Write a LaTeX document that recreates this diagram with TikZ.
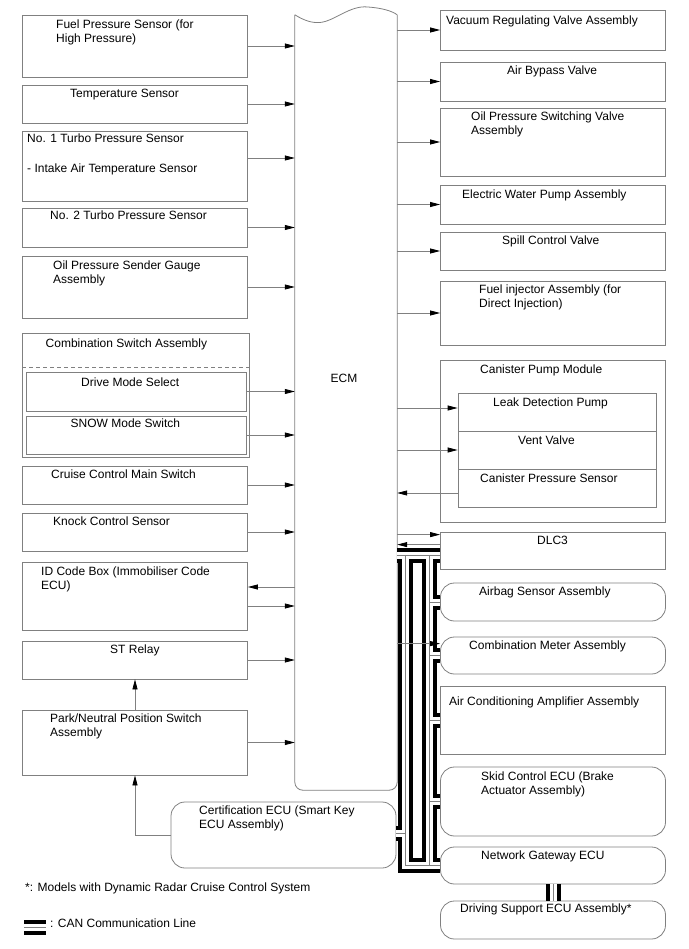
\documentclass[tikz,border=0pt]{standalone}
\usepackage{fontspec}
\setmainfont{Liberation Sans}
\usetikzlibrary{arrows.meta}
\definecolor{gris}{gray}{0.5}
\begin{document}
\begin{tikzpicture}[x=1pt, y=-1pt, font=\fontsize{12}{14}\selectfont,
  caja/.style={draw=gris, line width=0.8pt, inner sep=0pt, minimum width=225pt},
  cajar/.style={caja, rounded corners=14pt},
  texto/.style={anchor=north west, inner sep=0pt, align=left},
  flecha/.style={draw=gris, line width=0.8pt, -{Triangle[length=10pt, width=5pt, color=black]}}]
  \useasboundingbox (0,0) rectangle (688,949);
  % la ECM en el medio
  \node[minimum width=102pt, minimum height=775pt, inner sep=0pt] (ecm) at (346,402.5) {};
  \draw[gris, line width=0.8pt] (ecm.north west) .. controls (305,21) and (312,23) .. (320,22.5)
    .. controls (335,21) and (350,5) .. (368,7) .. controls (382,8) and (392,11) .. (ecm.north east);
  \draw[gris, line width=0.8pt, rounded corners=8pt] (ecm.north west) -- (ecm.south west)
    -- (ecm.south east) -- (ecm.north east);
  \node at (344,378) {ECM};
  % las entradas, a la izquierda
  \node[caja, minimum height=62pt] (fps) at (135,46) {};
  \node[texto] at (56,20) {Fuel Pressure Sensor (for\\High Pressure)};
  \node[caja, minimum height=38pt] (temp) at (135,104) {};
  \node[texto] at (70,89) {Temperature Sensor};
  \node[caja, minimum height=70pt] (turbo1) at (135,166) {};
  \node[texto] at (27,134) {No. 1 Turbo Pressure Sensor\\[16pt]- Intake Air Temperature Sensor};
  \node[caja, minimum height=39pt] (turbo2) at (135,227.5) {};
  \node[texto] at (50,211) {No. 2 Turbo Pressure Sensor};
  \node[caja, minimum height=62pt] (oil) at (135,287) {};
  \node[texto] at (53,261) {Oil Pressure Sender Gauge\\Assembly};
  \node[caja, minimum width=226.6pt, minimum height=124pt] (comb) at (136,395) {};
  \node[texto] at (45.5,339) {Combination Switch Assembly};
  \draw[gris, line width=0.8pt, dash pattern=on 4pt off 3pt] ([yshift=-35pt]comb.north west)
    -- ([yshift=-35pt]comb.north east);
  \node[caja, minimum width=220pt, minimum height=39pt] (drive) at (136,391.5) {};
  \node[texto] at (81,378) {Drive Mode Select};
  \node[caja, minimum width=220pt, minimum height=38pt] (snow) at (136,435) {};
  \node[texto] at (70.5,419) {SNOW Mode Switch};
  \node[caja, minimum height=38pt] (cruise) at (135,485) {};
  \node[texto] at (51,470) {Cruise Control Main Switch};
  \node[caja, minimum height=38pt] (knock) at (135,532) {};
  \node[texto] at (53,517) {Knock Control Sensor};
  \node[caja, minimum height=68pt] (idc) at (135,596) {};
  \node[texto] at (41,567) {ID Code Box (Immobiliser Code\\ECU)};
  \node[caja, minimum height=38pt] (st) at (135,660) {};
  \node[texto] at (110,645) {ST Relay};
  \node[caja, minimum height=65pt] (pnp) at (135,742.5) {};
  \node[texto] at (50,714) {Park/Neutral Position Switch\\Assembly};
  \node[cajar, minimum height=66pt] (cert) at (283.5,835) {};
  \node[texto] at (199,806) {Certification ECU (Smart Key\\ECU Assembly)};
  % las salidas, a la derecha
  \node[caja, minimum height=40pt] (vac) at (553,30) {};
  \node[texto] at (446,16) {Vacuum Regulating Valve Assembly};
  \node[caja, minimum height=39pt] (abv) at (553,81.5) {};
  \node[texto] at (507,66) {Air Bypass Valve};
  \node[caja, minimum height=68pt] (ops) at (553,142) {};
  \node[texto] at (471,112) {Oil Pressure Switching Valve\\Assembly};
  \node[caja, minimum height=39pt] (ewp) at (553,204.5) {};
  \node[texto] at (462,190) {Electric Water Pump Assembly};
  \node[caja, minimum height=38pt] (scv) at (553,251) {};
  \node[texto] at (502,236) {Spill Control Valve};
  \node[caja, minimum height=64pt] (finj) at (553,313) {};
  \node[texto] at (479,285) {Fuel injector Assembly (for\\Direct Injection)};
  \node[caja, minimum height=162pt] (cpm) at (553,441) {};
  \node[texto] at (480,365) {Canister Pump Module};
  \node[caja, minimum width=198pt, minimum height=38pt] (ldp) at (557,412) {};
  \node[texto] at (493,398) {Leak Detection Pump};
  \node[caja, minimum width=198pt, minimum height=38pt] (vv) at (557,450) {};
  \node[texto] at (518,436) {Vent Valve};
  \node[caja, minimum width=198pt, minimum height=38pt] (cps) at (557,488) {};
  \node[texto] at (480,474) {Canister Pressure Sensor};
  \node[caja, minimum height=37pt] (dlc) at (553,550.5) {};
  \node[texto] at (537,536) {DLC3};
  \node[cajar, minimum height=38pt] (airbag) at (553,602) {};
  \node[texto] at (479,587) {Airbag Sensor Assembly};
  \node[cajar, minimum height=37pt] (meter) at (553,655.5) {};
  \node[texto] at (469,641) {Combination Meter Assembly};
  \node[caja, minimum height=68pt] (ac) at (553,720) {};
  \node[texto] at (449,697) {Air Conditioning Amplifier Assembly};
  \node[cajar, minimum height=69pt] (skid) at (553,801.5) {};
  \node[texto] at (481,772) {Skid Control ECU (Brake\\Actuator Assembly)};
  \node[cajar, minimum height=37pt] (gw) at (553,865.5) {};
  \node[texto] at (481,851) {Network Gateway ECU};
  \node[cajar, minimum height=38pt] (dsecu) at (553,920) {};
  \node[texto] at (460,904) {Driving Support ECU Assembly*};
  % las flechas
  \foreach \n in {fps, temp, turbo2, oil, drive, snow, cruise, knock, st, pnp}
    \draw[flecha] (\n.east) -- (\n.east -| ecm.west);
  \draw[flecha] ([yshift=8pt]turbo1.east) -- ([yshift=8pt]turbo1.east -| ecm.west);
  \draw[flecha] ([yshift=9pt]idc.east -| ecm.west) -- ([yshift=9pt]idc.east);
  \draw[flecha] ([yshift=-10pt]idc.east) -- ([yshift=-10pt]idc.east -| ecm.west);
  \draw[flecha] (pnp.north) -- (st.south);
  \draw[flecha] (cert.west) -| (pnp.south);
  \foreach \n in {vac, abv, ops, ewp, scv, finj, vv}
    \draw[flecha] (\n.west -| ecm.east) -- (\n.west);
  \draw[flecha] ([yshift=4pt]ldp.west -| ecm.east) -- ([yshift=4pt]ldp.west);
  \draw[flecha] ([yshift=-5pt]cps.west) -- ([yshift=-5pt]cps.west -| ecm.east);
  \draw[flecha] ([yshift=-3pt]dlc.north west -| ecm.east) -- ([yshift=-3pt]dlc.north west);
  \draw[flecha] ([yshift=-13pt]dlc.north west) -- ([yshift=-13pt]dlc.north west -| ecm.east);
  % la linea CAN: lo negro, el blanco y el hilo del centro
  \coordinate (can1) at (24,927);
  \coordinate (can2) at (46,927);
  \foreach \capa/\ancho in {black/15pt, white/7pt, gris/0.8pt} {
    \draw[\capa, line width=\ancho] ([yshift=-24pt]dlc.north west -| ecm.east) -- ([yshift=-24pt]dlc.north west);
    \draw[\capa, line width=\ancho] (405.5,556) -- (405.5,833) -- ([yshift=2pt]cert.east);
    \draw[\capa, line width=\ancho] (405.5,833) -- (405.5,865.5) -- (gw.west);
    \draw[\capa, line width=\ancho] (429,556) -- (429,865.5) -- (gw.west);
    \foreach \n in {airbag, meter, ac, skid}
      \draw[\capa, line width=\ancho] (429,0 |- \n.west) -- (\n.west);
    \draw[\capa, line width=\ancho] (gw.south) -- (dsecu.north);
    \draw[\capa, line width=\ancho] (can1) -- (can2);
  }
  \draw[flecha] ([yshift=-7pt]meter.north west -| ecm.east) -- ([yshift=-7pt]meter.north west);
  % la leyenda
  \node[texto] at (25,883) {*: Models with Dynamic Radar Cruise Control System};
  \node[texto] at (50,919) {: CAN Communication Line};
\end{tikzpicture}
\end{document}
